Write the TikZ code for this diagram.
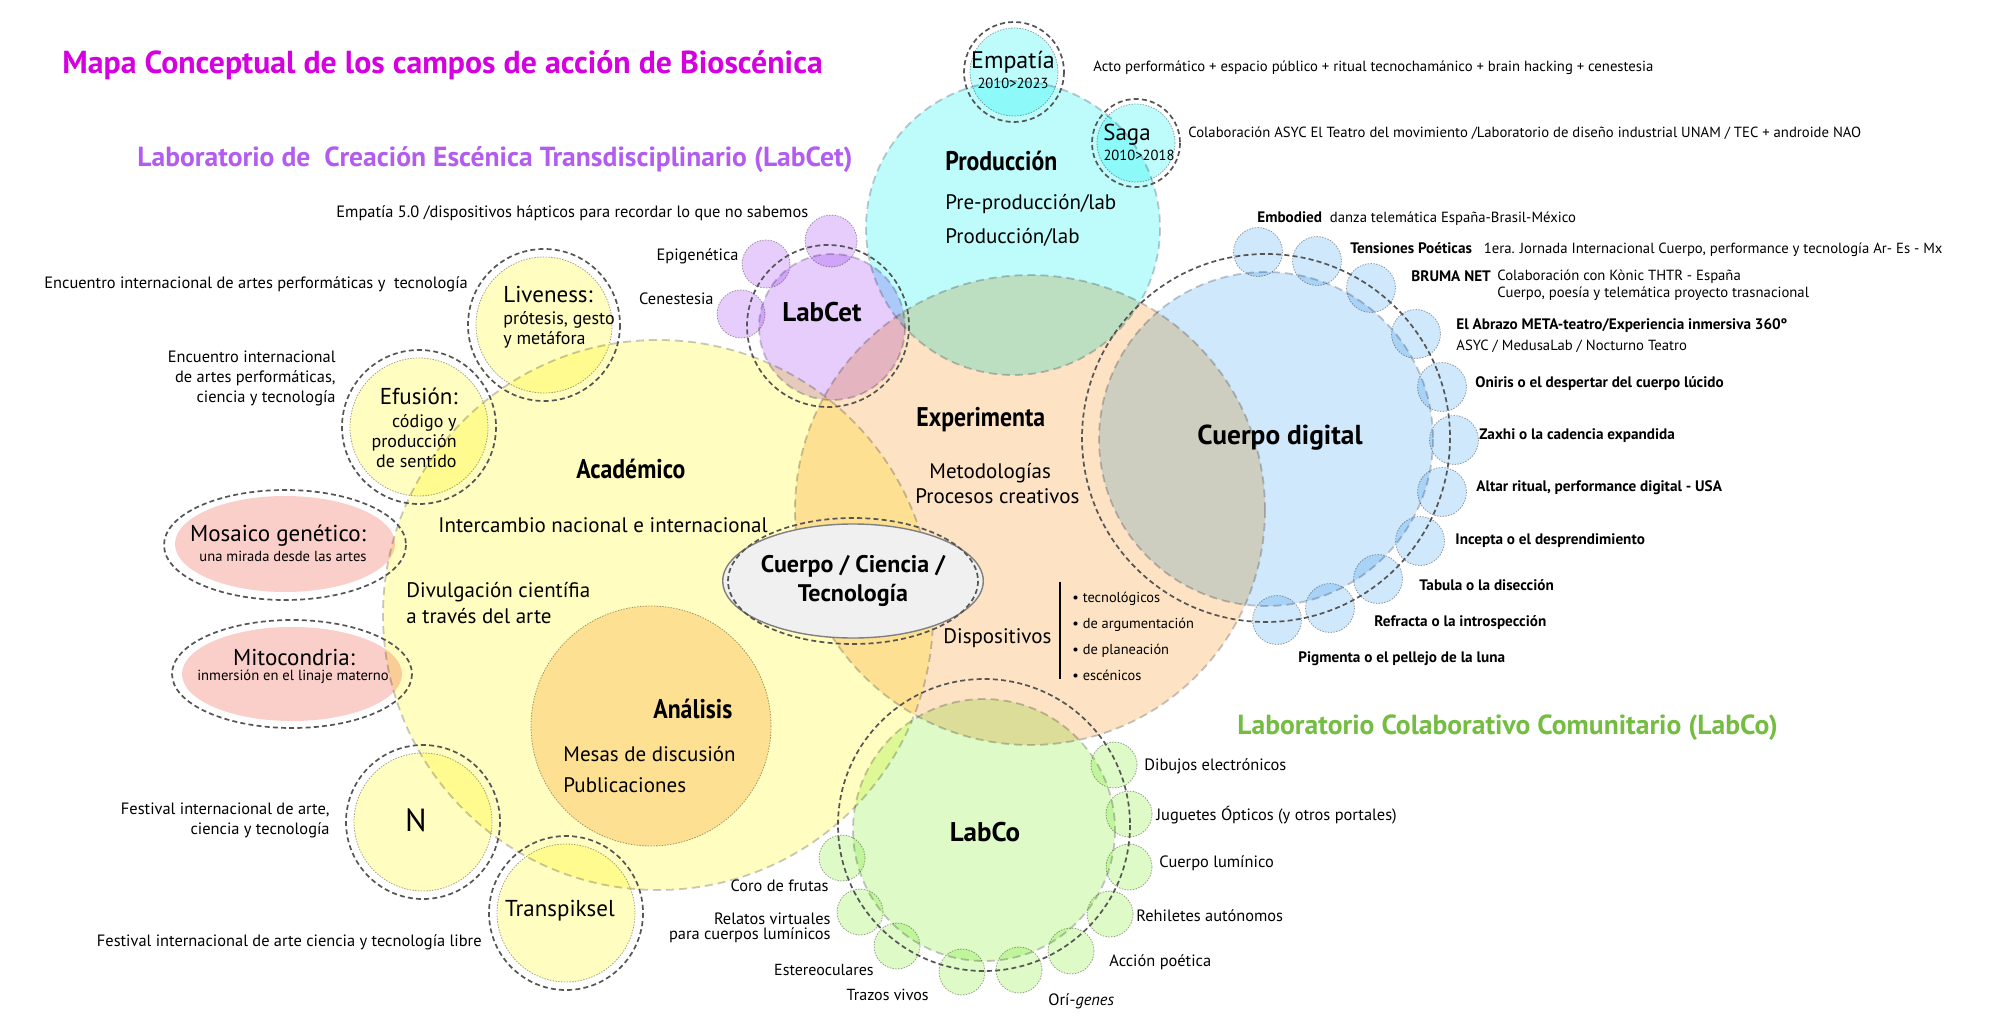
\documentclass[tikz,border=0pt]{standalone}
\usepackage{fontspec}
\setmainfont{PT Sans}
\usepackage{graphicx}
\usetikzlibrary{shapes.geometric}

\definecolor{bioMagenta}{RGB}{212,0,224}
\definecolor{labcetPurple}{RGB}{178,92,240}
\definecolor{labcoGreen}{RGB}{116,188,66}
\definecolor{fillYellow}{RGB}{255,253,191}
\definecolor{fillPeach}{RGB}{253,226,196}
\definecolor{fillCyan}{RGB}{190,252,252}
\definecolor{fillBlue}{RGB}{207,232,251}
\definecolor{fillGreen}{RGB}{222,250,199}
\definecolor{fillPurple}{RGB}{230,205,252}
\definecolor{fillPink}{RGB}{250,206,201}
\definecolor{ringGray}{RGB}{85,85,85}
\definecolor{edgeGray}{RGB}{200,200,206}
\definecolor{dotGray}{RGB}{160,160,160}

\newcommand\fsz[2]{\fontsize{#1}{#2}\selectfont}
\newcommand\cond[1]{\scalebox{0.88}[1]{#1}}

\tikzset{
  every node/.style={inner sep=0pt},
  field/.style={fill=#1},
  bigedge/.style={draw=edgeGray, line width=0.9pt, dash pattern=on 4pt off 2.5pt},
  smalledge/.style={draw=dotGray, line width=0.4pt, dash pattern=on 0.7pt off 0.7pt},
  ring/.style={draw=ringGray, line width=0.85pt, dash pattern=on 2.5pt off 1.6pt},
  titletxt/.style={font=\bfseries\fsz{15.9}{18}, text=bioMagenta},
  labhead/.style={font=\bfseries\fsz{13.8}{16}},
  fieldhead/.style={font=\bfseries\fsz{13.5}{15}},
  hubtxt/.style={font=\bfseries\fsz{13.5}{15}},
  bodytxt/.style={font=\fsz{10.5}{12.5}},
  bubblehead/.style={font=\fsz{11.5}{13}},
  sidetxt/.style={font=\fsz{9}{10}},
  smalltxt/.style={font=\fsz{8.2}{10}},
  topnote/.style={font=\fsz{7.35}{9}},
  bluebold/.style={font=\bfseries\fsz{7.6}{9}},
  tinytxt/.style={font=\fsz{7.3}{9}},
  coreellipse/.style={ellipse, draw=gray, line width=0.7pt, fill=gray!12,
    minimum width=115pt, minimum height=57pt, align=center,
    font=\bfseries\fsz{12}{14.5}},
}

\begin{document}
\begin{tikzpicture}[x=0.5pt, y=-0.5pt]
\useasboundingbox (0,0) rectangle (2000,1032);

% campos grandes
\begin{scope}[blend mode=multiply]
\filldraw[field=fillYellow, bigedge] (658,615) circle[radius=275];
\filldraw[field=fillPeach, smalledge] (651,726) circle[radius=120];
\filldraw[field=fillPeach, bigedge] (1030,510) circle[radius=235];
\filldraw[field=fillCyan, bigedge] (1013,228) circle[radius=147];
\filldraw[field=fillBlue, bigedge] (1266,439) circle[radius=167];
\filldraw[field=fillGreen, bigedge] (984,830) circle[radius=131];
\filldraw[field=fillPurple, bigedge] (832,327) circle[radius=73];

% burbujas LabCet
\filldraw[field=fillPurple, smalledge] (831,241) circle[radius=26];
\filldraw[field=fillPurple, smalledge] (766,264) circle[radius=24];
\filldraw[field=fillPurple, smalledge] (741,314) circle[radius=24];

% produccion
\filldraw[field=fillCyan, smalledge] (1014,72) circle[radius=44];
\filldraw[field=fillCyan, smalledge] (1136,143) circle[radius=39];

% academico
\filldraw[field=fillYellow, smalledge] (544,325) circle[radius=68];
\filldraw[field=fillYellow, smalledge] (419,427) circle[radius=69];
\filldraw[field=fillYellow, smalledge] (423,822) circle[radius=69];
\filldraw[field=fillYellow, smalledge] (566,913) circle[radius=69];
\fill[field=fillPink] (285,544) ellipse[x radius=110, y radius=48];
\fill[field=fillPink] (292,674) ellipse[x radius=110, y radius=47];

% cuerpo digital
\filldraw[field=fillBlue, smalledge] (1258,252) circle[radius=24.5];
\filldraw[field=fillBlue, smalledge] (1317,261) circle[radius=24.5];
\filldraw[field=fillBlue, smalledge] (1371,288) circle[radius=24.5];
\filldraw[field=fillBlue, smalledge] (1416,334) circle[radius=24.5];
\filldraw[field=fillBlue, smalledge] (1442,387) circle[radius=24.5];
\filldraw[field=fillBlue, smalledge] (1454,440) circle[radius=24.5];
\filldraw[field=fillBlue, smalledge] (1442,492) circle[radius=24.5];
\filldraw[field=fillBlue, smalledge] (1420,541) circle[radius=24.5];
\filldraw[field=fillBlue, smalledge] (1378,579) circle[radius=24.5];
\filldraw[field=fillBlue, smalledge] (1330,608) circle[radius=24.5];
\filldraw[field=fillBlue, smalledge] (1277,620) circle[radius=24.5];

% LabCo
\filldraw[field=fillGreen, smalledge] (1114,765) circle[radius=23];
\filldraw[field=fillGreen, smalledge] (1129,814) circle[radius=23];
\filldraw[field=fillGreen, smalledge] (1129,867) circle[radius=23];
\filldraw[field=fillGreen, smalledge] (1110,914) circle[radius=23];
\filldraw[field=fillGreen, smalledge] (1071,951) circle[radius=23];
\filldraw[field=fillGreen, smalledge] (1019,970) circle[radius=23];
\filldraw[field=fillGreen, smalledge] (962,972) circle[radius=23];
\filldraw[field=fillGreen, smalledge] (897,946) circle[radius=23];
\filldraw[field=fillGreen, smalledge] (860,912) circle[radius=23];
\filldraw[field=fillGreen, smalledge] (842,858) circle[radius=23];
\end{scope}

% anillos punteados
\draw[ring] (1014,72) circle[radius=50];
\draw[ring] (1136,143) circle[radius=44];
\draw[ring] (828,326) circle[radius=81];
\draw[ring] (544,325) circle[radius=76];
\draw[ring] (419,427) circle[radius=77];
\draw[ring] (423,822) circle[radius=77];
\draw[ring] (566,913) circle[radius=77];
\draw[ring] (285,545) ellipse[x radius=121, y radius=55];
\draw[ring] (292,674) ellipse[x radius=120, y radius=54];
\draw[ring] (1266,438) circle[radius=184];
\draw[ring] (984,825) circle[radius=146];

% nucleo
\node[coreellipse] (nucleo) at (853,581) {Cuerpo / Ciencia /\\Tecnología};
\draw[ring] (nucleo.center) ellipse[x radius=125, y radius=63];

% encabezados
\node[titletxt, anchor=mid west] (titulo) at (62,69) {Mapa Conceptual de los campos de acción de Bioscénica};
\node[labhead, text=labcetPurple, anchor=mid west] (labcetHead) at (137,162) {Laboratorio de\ \ Creación Escénica Transdisciplinario (LabCet)};
\node[labhead, text=labcoGreen, anchor=mid west] (labcoHead) at (1237,729) {Laboratorio Colaborativo Comunitario (LabCo)};

% produccion
\node[fieldhead, anchor=mid west] (produccion) at (945,166) {\cond{Producción}};
\node[bodytxt, anchor=mid west] (preprod) at (945,205) {Pre-producción/lab};
\node[bodytxt, anchor=mid west] (prodlab) at (945,238) {Producción/lab};
\node[bubblehead, font=\fsz{12}{13}] (empatia) at (1013,62) {Empatía};
\node[tinytxt] (empatiaYr) at (1013,83) {2010>2023};
\node[bubblehead] (saga) at (1127,135) {Saga};
\node[tinytxt] (sagaYr) at (1139,155) {2010>2018};
\node[topnote, anchor=mid west] (actoLbl) at (1093,67) {Acto performático + espacio público + ritual tecnochamánico + brain hacking + cenestesia};
\node[topnote, anchor=mid west] (sagaLbl) at (1188,133) {Colaboración ASYC El Teatro del movimiento /Laboratorio de diseño industrial UNAM / TEC + androide NAO};

% LabCet
\node[hubtxt, anchor=mid west] (labcet) at (782,316) {LabCet};
\node[smalltxt, anchor=mid west] (empatia5) at (336,213) {Empatía 5.0 /dispositivos hápticos para recordar lo que no sabemos};
\node[smalltxt, anchor=mid east] (epigenetica) at (739,255) {Epigenética};
\node[smalltxt, anchor=mid east] (cenestesia) at (714,299) {Cenestesia};

% academico
\node[fieldhead, anchor=mid west] (academico) at (576,473) {\cond{Académico}};
\node[bodytxt, anchor=mid west] (intercambio) at (438,527) {Intercambio nacional e internacional};
\node[bodytxt, anchor=west, align=left, font=\fsz{10.5}{13}] (divulgacion) at (406,603) {Divulgación científia\\a través del arte};
\node[fieldhead, anchor=mid west] (analisis) at (653,713) {\cond{Análisis}};
\node[bodytxt, anchor=mid west] (mesas) at (563,756) {Mesas de discusión};
\node[bodytxt, anchor=mid west] (publicaciones) at (563,787) {Publicaciones};

\node[bubblehead, anchor=mid west] (liveness) at (503,297) {Liveness:};
\node[sidetxt, anchor=west, align=left] (livenessSub) at (503,330) {prótesis, gesto\\y metáfora};
\node[smalltxt, anchor=mid west] (encuentro1) at (44,283) {Encuentro internacional de artes performáticas y\ \ tecnología};
\node[bubblehead, anchor=mid east] (efusion) at (458,399) {Efusión:};
\node[sidetxt, anchor=east, align=right] (efusionSub) at (457,441) {código y\\producción\\de sentido};
\node[smalltxt, anchor=east, align=right] (encuentro2) at (336,378) {Encuentro internacional\\de artes performáticas,\\ciencia y tecnología};
\node[bubblehead] (mosaico) at (278,536) {Mosaico genético:};
\node[tinytxt] (mosaicoSub) at (283,556) {una mirada desde las artes};
\node[bubblehead] (mitocondria) at (294,657) {Mitocondria:};
\node[tinytxt] (mitocondriaSub) at (293,677) {inmersión en el linaje materno};
\node[font=\fsz{16}{18}] (nFest) at (416,820) {N};
\node[smalltxt, anchor=east, align=right] (nLbl) at (330,820) {Festival internacional de arte,\\ciencia y tecnología};
\node[bubblehead] (transpiksel) at (560,911) {Transpiksel};
\node[smalltxt, anchor=mid east] (transLbl) at (482,941) {Festival internacional de arte ciencia y tecnología libre};

% experimenta
\node[fieldhead, anchor=mid west] (experimenta) at (916,421) {\cond{Experimenta}};
\node[bodytxt, anchor=mid west] (metodos) at (929,473) {Metodologías};
\node[bodytxt, anchor=mid west] (procesos) at (915,498) {Procesos creativos};
\node[bodytxt, anchor=mid west] (dispositivos) at (943,638) {Dispositivos};
\coordinate (barTop) at (1060,582);
\coordinate (barBot) at (1060,679);
\draw[line width=0.8pt] (barTop) -- (barBot);
\node[tinytxt, anchor=west, align=left, font=\fsz{7.2}{13}] (tipos) at (1072,636) {\textbullet\ tecnológicos\\\textbullet\ de argumentación\\\textbullet\ de planeación\\\textbullet\ escénicos};

% cuerpo digital
\node[hubtxt, font=\bfseries\fsz{13.7}{15}, anchor=mid west] (digital) at (1197,439) {Cuerpo digital};
\node[topnote, anchor=mid west] (embodied) at (1257,217) {{\bfseries\fsz{7.6}{9}Embodied}\ \ danza telemática España-Brasil-México};
\node[topnote, anchor=mid west] (tensiones) at (1350,248) {{\bfseries\fsz{7.6}{9}Tensiones Poéticas}\ \ \ 1era. Jornada Internacional Cuerpo, performance y tecnología Ar- Es - Mx};
\node[bluebold, anchor=mid west] (bruma) at (1411,276) {BRUMA NET};
\node[topnote, anchor=west, align=left, font=\fsz{7.35}{8.5}] (brumaSub) at (1497,285) {Colaboración con Kònic THTR - España\\Cuerpo, poesía y telemática proyecto trasnacional};
\node[topnote, anchor=west, align=left, font=\fsz{7.35}{10.5}] (abrazo) at (1456,336) {{\bfseries\fsz{7.6}{10.5}El Abrazo META-teatro/Experiencia inmersiva 360º}\\ASYC / MedusaLab / Nocturno Teatro};
\node[bluebold, anchor=mid west] (oniris) at (1475,382) {Oniris o el despertar del cuerpo lúcido};
\node[bluebold, anchor=mid west] (zaxhi) at (1479,434) {Zaxhi o la cadencia expandida};
\node[bluebold, anchor=mid west] (altar) at (1476,486) {Altar ritual, performance digital - USA};
\node[bluebold, anchor=mid west] (incepta) at (1455,539) {Incepta o el desprendimiento};
\node[bluebold, anchor=mid west] (tabula) at (1419,585) {Tabula o la disección};
\node[bluebold, anchor=mid west] (refracta) at (1374,621) {Refracta o la introspección};
\node[bluebold, anchor=mid west] (pigmenta) at (1298,657) {Pigmenta o el pellejo de la luna};

% LabCo
\node[hubtxt] (labco) at (985,832) {LabCo};
\node[smalltxt, anchor=mid west] (dibujos) at (1144,765) {Dibujos electrónicos};
\node[smalltxt, anchor=mid west] (juguetes) at (1156,815) {Juguetes Ópticos (y otros portales)};
\node[smalltxt, anchor=mid west] (lumin) at (1159,862) {Cuerpo lumínico};
\node[smalltxt, anchor=mid west] (rehiletes) at (1136,916) {Rehiletes autónomos};
\node[smalltxt, anchor=mid west] (accion) at (1109,961) {Acción poética};
\node[smalltxt, anchor=mid west] (origenes) at (1048,1000) {Orí-\textit{genes}};
\node[smalltxt, anchor=mid east] (coro) at (829,886) {Coro de frutas};
\node[smalltxt, anchor=east, align=right, font=\fsz{8.2}{7.2}] (relatos) at (831,928) {Relatos virtuales\\para cuerpos lumínicos};
\node[smalltxt, anchor=mid east, font=\fsz{8}{10}] (estereo) at (874,970) {Estereoculares};
\node[smalltxt, anchor=mid east, font=\fsz{8}{10}] (trazos) at (929,995) {Trazos vivos};
\end{tikzpicture}
\end{document}
